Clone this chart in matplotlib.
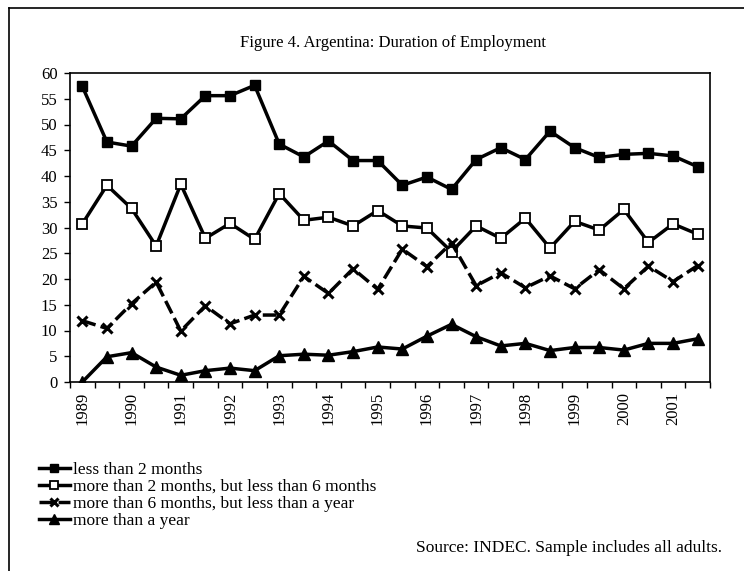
import numpy as np
import matplotlib
matplotlib.use("Agg")
import matplotlib.pyplot as plt
from matplotlib.lines import Line2D

plt.rcParams['font.family'] = ['Liberation Serif', 'DejaVu Serif']

# semi-annual observations, 1989 - 2001 (26 points)
years = ['1989', '1990', '1991', '1992', '1993', '1994', '1995',
         '1996', '1997', '1998', '1999', '2000', '2001']

less_2m = [57.4, 46.6, 45.8, 51.2, 51.1, 55.6, 55.6, 57.6, 46.2, 43.7, 46.8, 43.0, 43.0,
           38.2, 39.8, 37.4, 43.2, 45.5, 43.2, 48.7, 45.5, 43.6, 44.2, 44.4, 43.9, 41.8]
btw_2_6m = [30.7, 38.2, 33.7, 26.4, 38.4, 27.9, 30.8, 27.7, 36.6, 31.4, 32.0, 30.3, 33.3,
            30.3, 29.9, 25.3, 30.3, 27.9, 31.8, 26.0, 31.2, 29.5, 33.5, 27.1, 30.7, 28.7]
btw_6_12m = [11.9, 10.4, 15.2, 19.4, 9.9, 14.8, 11.3, 13.0, 13.0, 20.5, 17.2, 22.0, 18.0,
             25.8, 22.4, 27.0, 18.7, 21.2, 18.3, 20.6, 18.1, 21.8, 18.1, 22.5, 19.5, 22.6]
more_1y = [0.0, 4.9, 5.7, 2.9, 1.3, 2.2, 2.7, 2.2, 5.1, 5.4, 5.2, 5.9, 6.8,
           6.4, 8.9, 11.2, 8.8, 7.0, 7.5, 6.1, 6.7, 6.7, 6.2, 7.5, 7.5, 8.4]

labels = ['less than 2 months',
          'more than 2 months, but less than 6 months',
          'more than 6 months, but less than a year',
          'more than a year']

x = np.arange(len(less_2m))

fig = plt.figure(figsize=(7.44, 5.71), dpi=100)
ax = fig.add_axes([70/744, 1-382/571, 640/744, 309/571])

ax.plot(x, less_2m, color='black', lw=2.5, marker='s', ms=7.5, mfc='black', mec='black', label=labels[0])
ax.plot(x, btw_2_6m, color='black', lw=2.5, marker='s', ms=7.5, mfc='white', mec='black', mew=1.3, label=labels[1])
ax.plot(x, btw_6_12m, color='black', lw=2.5, ls=(0, (4, 1.5)), marker='x', ms=7.5, mew=2.2, label=labels[2])
ax.plot(x, more_1y, color='black', lw=2.5, marker='^', ms=8.5, mfc='black', mec='black', label=labels[3])

ax.set_xlim(-0.5, len(x) - 0.5)
ax.set_ylim(0, 60)
ax.set_yticks(np.arange(0, 61, 5))
ax.set_xticks(np.arange(0, len(x), 2))
ax.set_xticklabels(years, rotation=90)
ax.set_xticks(np.arange(-0.5, len(x), 1), minor=True)
ax.tick_params(axis='x', which='major', length=0, labelsize=12, pad=7)
ax.tick_params(axis='x', which='minor', length=4, width=1, direction='out')
ax.tick_params(axis='y', length=4, width=1, direction='out', labelsize=12, pad=5)
for s in ax.spines.values():
    s.set_linewidth(1.2)

fig.text(393/744, 1-43/571, 'Figure 4. Argentina: Duration of Employment',
         ha='center', va='center', fontsize=12)

# page frame
fig.add_artist(Line2D([9/744, 1], [1-8/571, 1-8/571], color='black', lw=1.2, transform=fig.transFigure))
fig.add_artist(Line2D([9/744, 9/744], [0, 1-8/571], color='black', lw=1.2, transform=fig.transFigure))

fig.legend(loc='upper left', bbox_to_anchor=(30/744, 1-453/571), frameon=False,
           fontsize=12.5, handlelength=1.8, handletextpad=0.15, labelspacing=0.05,
           borderpad=0, markerscale=0.85)

fig.text(722/744, 1-548/571, 'Source: INDEC. Sample includes all adults.',
         ha='right', va='center', fontsize=12.5)

fig.savefig('out.png', dpi=100)
